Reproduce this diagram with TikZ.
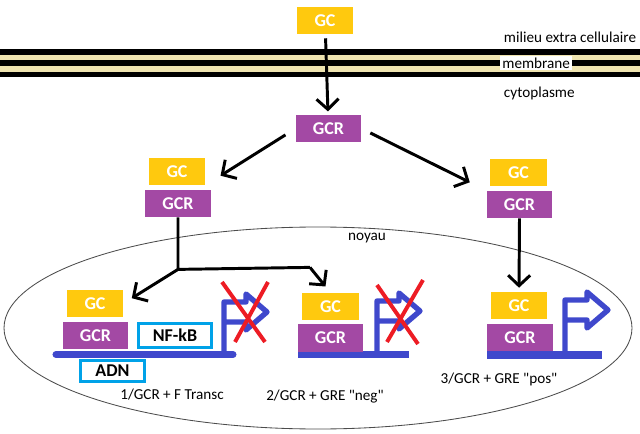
\documentclass[tikz,border=0pt]{standalone}
\usepackage{fontspec}
\setmainfont{Carlito}
\usetikzlibrary{arrows.meta,calc}
\definecolor{gcYellow}{HTML}{FFC90E}
\definecolor{gcrPurple}{HTML}{A349A4}
\definecolor{dnaBlue}{HTML}{3F48CC}
\definecolor{crossRed}{HTML}{ED1C24}
\definecolor{boxCyan}{HTML}{00A2E8}
\definecolor{lipidTan}{HTML}{EFE4B0}

\begin{document}
\begin{tikzpicture}[
  x=0.025cm, y=-0.025cm,
  font=\fontsize{10.8}{12}\selectfont,
  gc/.style={fill=gcYellow, text=white, font=\bfseries\fontsize{12.8}{14}\selectfont,
    minimum width=1.4cm, minimum height=0.675cm, inner sep=0pt},
  gcr/.style={fill=gcrPurple, text=white, font=\bfseries\fontsize{12.8}{14}\selectfont,
    minimum width=1.63cm, minimum height=0.68cm, inner sep=0pt},
  cbox/.style={draw=boxCyan, line width=2pt, fill=white, font=\bfseries\fontsize{12.8}{14}\selectfont,
    inner sep=0pt},
  arr/.style={draw, line width=2.1pt, -{Straight Barb[length=0.26cm, width=0.55cm]}},
  link/.style={draw, line width=2.1pt},
  dna/.style={draw=dnaBlue, line width=5pt},
  promo/.style={draw=dnaBlue, line width=3.8pt, line join=round},
  cross/.style={draw=crossRed, line width=2.8pt},
]
\useasboundingbox (0,0) rectangle (640,434);

% membrane
\fill[lipidTan] (0,50) rectangle (640,77);
\foreach \my in {52,63,74.5}
  \draw[line width=3.6pt] (0,\my) -- (640,\my);
\node[fill=white, inner sep=1.5pt, anchor=west] (memb) at (500,63) {membrane};
\node[anchor=west] (ext) at (499,37) {milieu extra cellulaire};
\node[anchor=west] (cyto) at (499,93) {cytoplasme};

% noyau
\draw[black!70, line width=0.6pt] (318,328) ellipse (314 and 101);
\node (noy) at (367,238) {noyau};

% recepteur
\node[gc] (gc0) at (325,20.5) {GC};
\node[gcr] (gcr0) at (328.5,128.5) {GCR};
\node[gc] (gcA) at (177,171.5) {GC};
\node[gcr] (gcrA) at (178,203.5) {GCR};
\node[gc] (gcC) at (518.5,172.5) {GC};
\node[gcr] (gcrC) at (519.5,204.5) {GCR};

% voie 1
\draw[dna, line cap=round] (56,354.5) -- (233,354.5);
\node[gc] (gc1) at (95,303.5) {GC};
\node[gcr] (gcr1) at (95.5,335.5) {GCR};
\node[cbox, minimum width=1.83cm, minimum height=0.6cm] (nfkb) at (175,335.5) {NF-kB};
\node[cbox, minimum width=1.6cm, minimum height=0.53cm] (adn) at (112.5,371) {ADN};
% voie 2
\draw[dna] (298,354.5) -- (409,354.5);
\node[gc] (gc2) at (330.5,306.5) {GC};
\node[gcr] (gcr2) at (330.5,338) {GCR};
% voie 3
\draw[dna] (487,355) -- (602,355);
\node[gc] (gc3) at (519,305.5) {GC};
\node[gcr] (gcr3) at (520,337.5) {GCR};

% promoteurs
\foreach \px/\py/\dy in {224/302/354.5, 377/301/354.5, 565/300/355}
  \draw[promo] (\px,\dy) -- (\px,\py) -- ++(22,0) -- ++(0,-8) -- ++(21,18)
    -- ++(-21,18) -- ++(0,-8) -- (\px,\py+20);
\draw[cross] (222,282) -- (265,342) (268,282) -- (235,342);
\draw[cross] (377,285) -- (418,344) (423,280) -- (387,342);

% fleches
\draw[arr, shorten <=0.1cm, shorten >=0.08cm] (gc0) -- (gcr0);
\draw[arr, shorten <=0.3cm, shorten >=0.45cm] (gcr0.west) -- (gcA.south east);
\draw[arr, shorten <=0.25cm, shorten >=0.47cm] (gcr0.east) -- (gcrC.north west);
\draw[link] (gcrA.south) -- ++(0,52) coordinate (split) -- ++(132,-2) coordinate (bend);
\draw[arr, shorten >=0.25cm] (split) -- (gc1.east);
\draw[arr, shorten >=0.2cm] (bend) -- (gc2.north);
\draw[arr, shorten >=0.1cm] (gcrC.south) -- (gc3.north);

% legendes
\node (l1) at (172,395) {1/GCR + F Transc};
\node (l2) at (325,397) {2/GCR + GRE \textquotedbl neg\textquotedbl};
\node (l3) at (499,379) {3/GCR + GRE \textquotedbl pos\textquotedbl};
\end{tikzpicture}
\end{document}
